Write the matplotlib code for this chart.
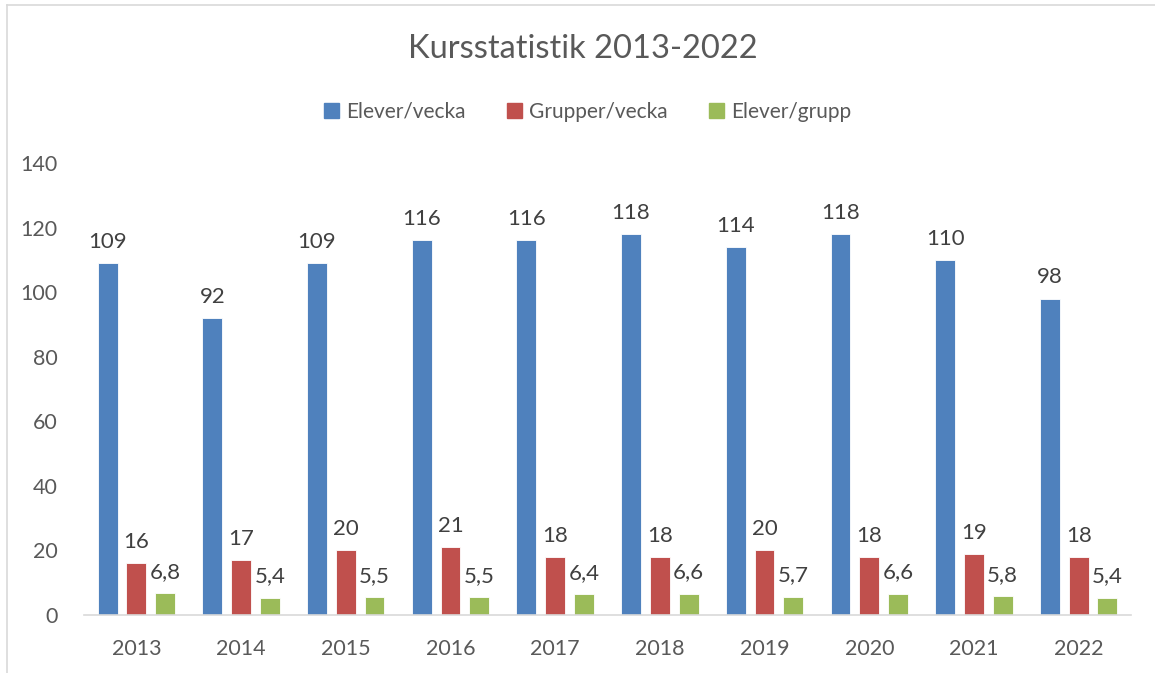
import matplotlib.pyplot as plt
import numpy as np
from matplotlib.lines import Line2D

years = ['2013', '2014', '2015', '2016', '2017', '2018', '2019', '2020', '2021', '2022']
elever_vecka = [109, 92, 109, 116, 116, 118, 114, 118, 110, 98]
grupper_vecka = [16, 17, 20, 21, 18, 18, 20, 18, 19, 18]
elever_grupp = [6.8, 5.4, 5.5, 5.5, 6.4, 6.6, 5.7, 6.6, 5.8, 5.4]

series = [('Elever/vecka', elever_vecka, '#4F81BD'),
          ('Grupper/vecka', grupper_vecka, '#C0504D'),
          ('Elever/grupp', elever_grupp, '#9BBB59')]

plt.rcParams['font.family'] = ['Lato', 'DejaVu Sans']
txt = '#595959'

fig = plt.figure(figsize=(11.55, 6.73), dpi=100)
ax = fig.add_axes([84 / 1155, 1 - 615 / 673, (1131 - 84) / 1155, (615 - 163) / 673])

x = np.arange(len(years))
step = 0.275
width = 0.19
for i, (name, vals, col) in enumerate(series):
    pos = x + (i - 1) * step
    bars = ax.bar(pos, vals, width, color=col, edgecolor='white', linewidth=0.6, label=name)
    labels = [str(v).replace('.', ',') for v in vals]
    ax.bar_label(bars, labels=labels, padding=8, fontsize=16, color='#404040')

ax.set_xlim(-0.5, len(years) - 0.5)
ax.set_ylim(0, 140)
ax.set_yticks(range(0, 141, 20))
ax.set_xticks(x)
ax.set_xticklabels(years)
ax.tick_params(axis='both', length=0, labelsize=15.5, colors=txt)
ax.tick_params(axis='y', pad=19)
ax.tick_params(axis='x', pad=17)
for s in ['top', 'right', 'left']:
    ax.spines[s].set_visible(False)
ax.spines['bottom'].set_color('#D9D9D9')
ax.spines['bottom'].set_linewidth(1.2)

fig.text(0.505, 1 - 49 / 673, 'Kursstatistik 2013-2022', ha='center', va='center',
         fontsize=23.5, color=txt)

handles = [plt.Rectangle((0, 0), 1, 1, color=c) for _, _, c in series]
fig.legend(handles, [n for n, _, _ in series], loc='center',
           bbox_to_anchor=(0.509, 1 - 112 / 673), ncol=3, frameon=False,
           fontsize=15, labelcolor=txt, handlelength=0.7, handleheight=0.7,
           handletextpad=0.35, columnspacing=2.0)

# chart frame (top and left edges visible)
fig.add_artist(Line2D([7 / 1155, 1], [1 - 5 / 673, 1 - 5 / 673], color='#D9D9D9', lw=1.2))
fig.add_artist(Line2D([7 / 1155, 7 / 1155], [0, 1 - 5 / 673], color='#D9D9D9', lw=1.2))

fig.savefig('out.png', dpi=100, facecolor='white')
